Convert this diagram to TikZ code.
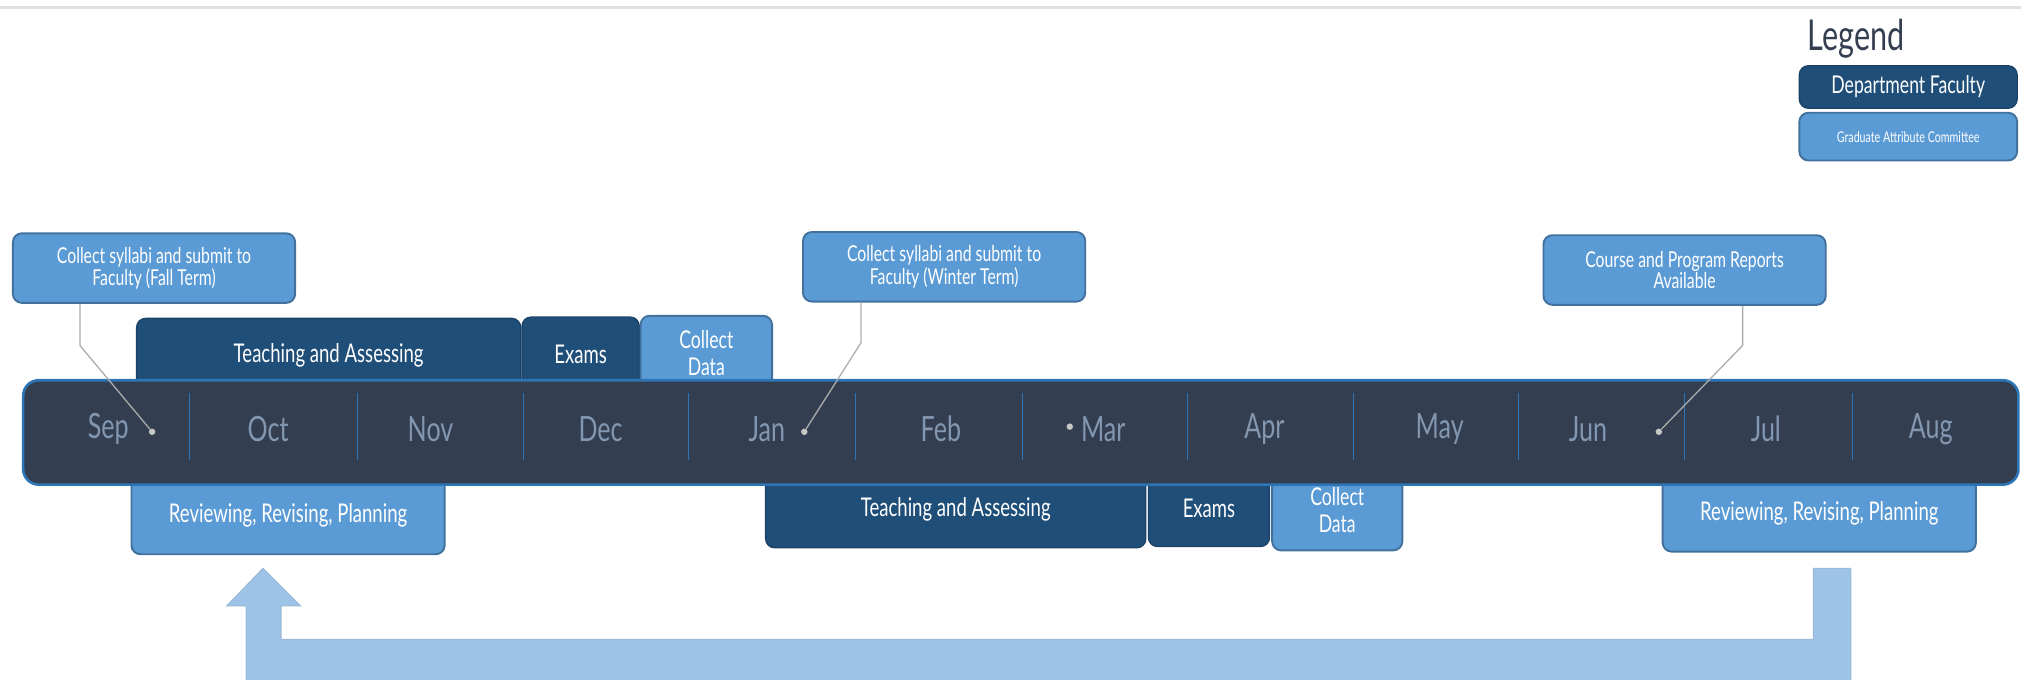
\documentclass[tikz,border=0pt]{standalone}
\usepackage{fontspec}
\setmainfont{Lato}[FakeStretch=0.72]
\usetikzlibrary{positioning}
\definecolor{deptblue}{HTML}{1F4E79}
\definecolor{gacblue}{HTML}{5B9BD5}
\definecolor{gacedge}{HTML}{41719C}
\definecolor{barfill}{HTML}{333F50}
\definecolor{monthgray}{HTML}{8497B0}
\definecolor{sepblue}{HTML}{2E75B6}
\definecolor{loopblue}{HTML}{9DC3E6}
\tikzset{
  dept/.style={fill=deptblue, draw=deptblue!85!black, line width=1pt, rounded corners=7pt,
    text=white, align=center, inner sep=0pt, font=\fontsize{20}{20}\selectfont},
  gac/.style={dept, fill=gacblue, draw=gacedge, line width=1.5pt},
  note/.style={gac, minimum width=219pt, minimum height=54pt, font=\fontsize{17}{13.5}\selectfont},
  month/.style={text=monthgray, font=\fontsize{27}{28}\selectfont},
  sep/.style={sepblue, line width=0.8pt},
  dot/.style={circle, fill=gray!45, inner sep=0pt, minimum size=5pt},
  callout/.style={draw=gray!65, line width=1pt},
}
\begin{document}
\begin{tikzpicture}[x=1pt, y=-1pt]
\useasboundingbox (0,0) rectangle (1568,527);
\draw[gray!25, line width=2pt] (0,6) -- (1568,6);

% legend
\node[text=barfill, font=\fontsize{33}{34}\selectfont] (legend) at (1440,30) {Legend};
\node[dept, minimum width=169pt, minimum height=33pt, font=\fontsize{19}{20}\selectfont] (legdept) at (1480.5,67.5) {Department Faculty};
\node[gac, minimum width=169pt, minimum height=37pt, font=\fontsize{11.5}{12}\selectfont] (leggac) at (1480.5,106) {Graduate Attribute Committee};

% fall term, above the bar
\node[dept, minimum width=298pt, minimum height=58pt] (teachfall) at (255,276) {Teaching and Assessing};
\node[dept, minimum width=91pt, minimum height=58pt] (examsfall) at (450.5,275) {Exams};
\node[gac, minimum width=102pt, minimum height=58pt, font=\fontsize{19}{21}\selectfont] (datafall) at (548,274) {Collect\\Data};

% winter term, below the bar
\node[dept, minimum width=295pt, minimum height=60pt] (teachwin) at (741.5,395) {Teaching and Assessing};
\node[dept, minimum width=94pt, minimum height=59pt] (examswin) at (938,394.5) {Exams};
\node[gac, minimum width=101pt, minimum height=62pt, font=\fontsize{19}{21}\selectfont] (datawin) at (1037.5,396) {Collect\\Data};
\node[gac, minimum width=243pt, minimum height=60pt] (revfall) at (223.5,400) {Reviewing, Revising, Planning};
\node[gac, minimum width=243pt, minimum height=60pt] (revsum) at (1411.5,398) {Reviewing, Revising, Planning};

% the year
\node[fill=barfill, draw=sepblue, line width=2pt, rounded corners=12pt,
  minimum width=1548pt, minimum height=81pt] (year) at (792,335.5) {};
\foreach \x in {147,277,406,534,664,793,921,1050,1178,1307,1437}
  \draw[sep] (\x,305) -- (\x,357);
\foreach \x/\m in {84/Sep,208/Oct,334/Nov,466/Dec,595/Jan,730/Feb,856/Mar,981/Apr,1117/May,1232/Jun,1370/Jul,1498/Aug}
  \node[month] (m\m) at (\x,333) {\m};

\node[dot] (dsep) at (118,335) {};
\node[dot] (djan) at (624,335) {};
\node[dot] (dmar) at (830,331) {};
\node[dot] (djun) at (1287,335) {};

% milestones
\node[note] (fallnote) at (119.5,208) {Collect syllabi and submit to\\Faculty (Fall Term)};
\node[note] (winnote) at (732.5,207) {Collect syllabi and submit to\\Faculty (Winter Term)};
\node[note] (repnote) at (1307,209.5) {Course and Program Reports\\Available};
\coordinate (fallbend) at (62,268);
\coordinate (winbend) at (668,266);
\coordinate (repbend) at (1352,268);
\draw[callout] (fallnote.south -| fallbend) -- (fallbend) -- (dsep);
\draw[callout] (winnote.south -| winbend) -- (winbend) -- (djan);
\draw[callout] (repnote.south -| repbend) -- (repbend) -- (djun);

% back to the start
\filldraw[fill=loopblue, draw=loopblue!85!gray, line width=0.8pt]
  (1407,441) -- (1436,441) -- (1436,528) -- (191,528) -- (191,470) -- (176,470)
  -- (204,441) -- (233,470) -- (218,470) -- (218,496) -- (1407,496) -- cycle;
\end{tikzpicture}
\end{document}
